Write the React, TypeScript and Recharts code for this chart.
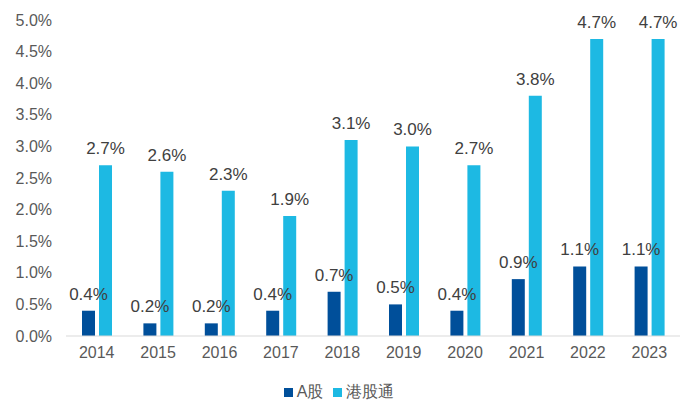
import React from "react";
import { BarChart, Bar, XAxis, YAxis, Legend, LabelList } from "recharts";

const years = ["2014", "2015", "2016", "2017", "2018", "2019", "2020", "2021", "2022", "2023"];
const aShare = [0.4, 0.2, 0.2, 0.4, 0.7, 0.5, 0.4, 0.9, 1.1, 1.1];
const hkConnect = [2.7, 2.6, 2.3, 1.9, 3.1, 3.0, 2.7, 3.8, 4.7, 4.7];
const yTicks = [0, 0.5, 1, 1.5, 2, 2.5, 3, 3.5, 4, 4.5, 5];

const data = years.map((year, i) => ({ year, a: aShare[i], hk: hkConnect[i] }));

const pct = (v: number) => `${Number(v).toFixed(1)}%`;
const font = "'Liberation Sans', Arial, sans-serif";

export default function App() {
  return (
    <div style={{ fontFamily: font }}>
      <BarChart
        width={692}
        height={404}
        data={data}
        margin={{ top: 12, right: 20, left: 0, bottom: 16 }}
        barSize={13}
        barGap={4}
      >
        <XAxis
          dataKey="year"
          axisLine={{ stroke: "#d9d9d9" }}
          tickLine={false}
          tick={{ fill: "#595959", fontSize: 16, fontFamily: font }}
          tickMargin={5}
          height={30}
        />
        <YAxis
          domain={[0, 5]}
          ticks={yTicks}
          tickFormatter={pct}
          axisLine={false}
          tickLine={false}
          tick={{ fill: "#595959", fontSize: 16, fontFamily: font }}
          tickMargin={8}
          width={58}
          interval={0}
        />
        <Legend
          verticalAlign="bottom"
          iconType="square"
          iconSize={9}
          height={30}
          wrapperStyle={{ fontSize: 16, color: "#595959", fontFamily: font, bottom: 0 }}
          formatter={(value: string) => <span style={{ color: "#595959" }}>{value}</span>}
        />
        <Bar dataKey="a" name="A股" fill="#004f9a" isAnimationActive={false}>
          <LabelList dataKey="a" position="top" offset={11} formatter={pct} fill="#404040" fontSize={17} fontFamily={font} />
        </Bar>
        <Bar dataKey="hk" name="港股通" fill="#1db9e3" isAnimationActive={false}>
          <LabelList dataKey="hk" position="top" offset={11} formatter={pct} fill="#404040" fontSize={17} fontFamily={font} />
        </Bar>
      </BarChart>
    </div>
  );
}
